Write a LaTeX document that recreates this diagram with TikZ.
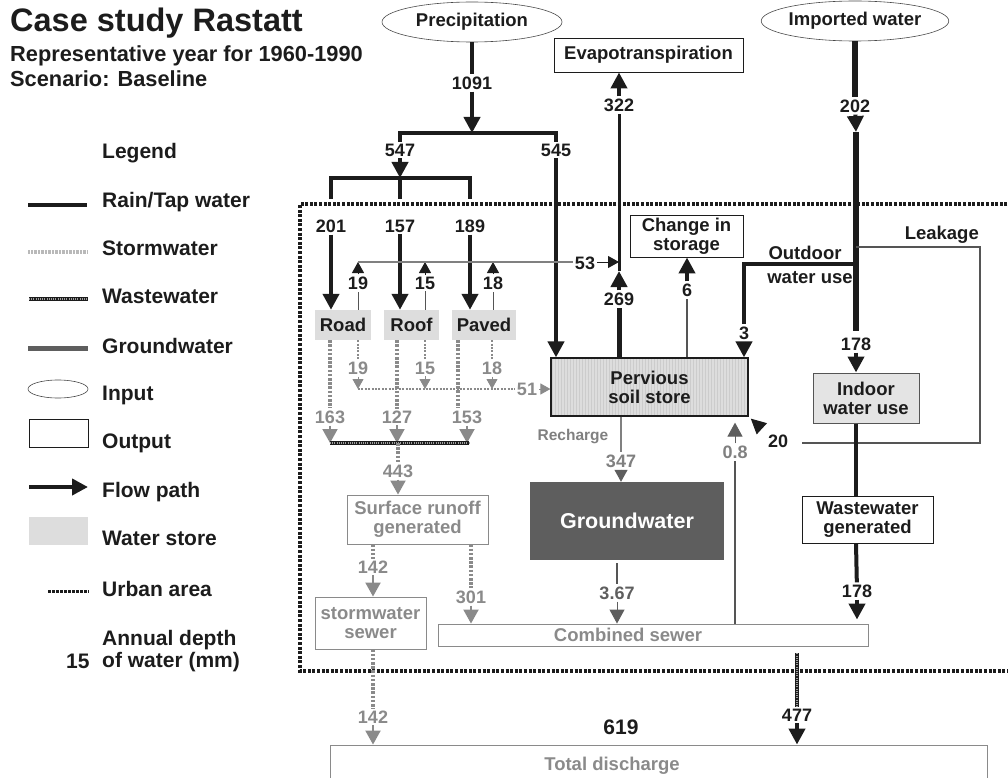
\documentclass[tikz,border=0pt]{standalone}
\usepackage{fontspec}
\setmainfont{Liberation Sans}
\usetikzlibrary{arrows.meta,shapes.geometric,patterns}
\definecolor{ink}{HTML}{1C1C1C}
\definecolor{storm}{HTML}{8A8A8A}
\definecolor{gwc}{HTML}{5E5E5E}
\definecolor{storefill}{HTML}{DDDDDD}
\definecolor{thinc}{HTML}{555555}
\newcommand{\fsz}[2]{\fontsize{#1}{#2}\selectfont\bfseries}
\tikzset{
  num/.style={font=\fsz{18}{19}, text=ink, inner sep=2pt},
  gnum/.style={num, text=storm},
  lbl/.style={font=\fsz{18.5}{19}, text=ink, align=center},
  legtxt/.style={font=\fsz{21}{22}, text=ink, anchor=base west, inner sep=0pt},
  rain/.style={draw=ink, line width=4pt},
  arr/.style={draw=ink, line width=4pt, -{Triangle[length=16pt,width=16pt]}},
  sarr/.style={draw=ink, line width=1pt, -{Triangle[length=11pt,width=12pt]}},
  garr/.style={draw=storm, line width=2pt, -{Triangle[length=14pt,width=15pt]}},
  gsarr/.style={draw=storm, line width=1pt, -{Triangle[length=10pt,width=11pt]}},
  stormln/.style={draw=storm, line width=3.5pt, dash pattern=on 2.6pt off 1.6pt},
  stormthin/.style={draw=storm, line width=2pt, dash pattern=on 2pt off 1.4pt},
  waste/.style={draw=ink, line width=4pt, postaction={draw=gray!75, line width=1.2pt, dash pattern=on 1pt off 1.2pt}},
  urban/.style={draw=ink, line width=3.5pt, dash pattern=on 3pt off 1.6pt},
  outbox/.style={draw=ink, line width=0.9pt, fill=white, lbl, inner sep=0pt},
  gbox/.style={draw=storm, line width=0.9pt, font=\fsz{18.5}{19}, text=storm, align=center, inner sep=0pt},
  storebox/.style={fill=storefill, lbl, inner sep=0pt},
  inbox/.style={ellipse, draw=ink!80, line width=0.6pt, lbl, inner sep=0pt},
}
\begin{document}
\begin{tikzpicture}[x=1pt,y=-1pt]
\useasboundingbox (0,0) rectangle (1008,778);
\clip (0,0) rectangle (1008,778);
% ---------- title ----------
\node[font=\fsz{32.5}{33}, text=ink, anchor=base west, inner sep=0pt] (title) at (10,32) {Case study Rastatt};
\node[legtxt, font=\fsz{21.8}{22}] (sub1) at (10,62) {Representative year for 1960-1990};
\node[legtxt, font=\fsz{21.8}{22}] (sub2) at (10,87) {Scenario: Baseline};
% ---------- legend ----------
\node[legtxt] (lg) at (102,159) {Legend};
\draw[rain] (28,205) -- (87,205);
\node[legtxt] at (102,207) {Rain/Tap water};
\draw[draw=gray!55, line width=4pt, dash pattern=on 0.7pt off 0.7pt] (28,252) -- (87,252);
\node[legtxt] at (102,255) {Stormwater};
\draw[waste] (29,299) -- (88,299);
\node[legtxt] at (102,303) {Wastewater};
\draw[draw=gwc, line width=5pt] (28,348) -- (88,348);
\node[legtxt] at (102,353) {Groundwater};
\draw[ink!80, line width=0.6pt] (58,389) ellipse [x radius=30, y radius=9];
\node[legtxt] at (102,400) {Input};
\draw[ink, line width=0.8pt] (29,419) rectangle (88,447);
\node[legtxt] at (102,448) {Output};
\draw[arr] (29,487) -- (88,487);
\node[legtxt] at (102,497) {Flow path};
\fill[storefill] (29,517) rectangle (88,545);
\node[legtxt] at (102,545) {Water store};
\draw[ink, line width=3pt, dash pattern=on 2.5pt off 1.5pt] (48,591) -- (89,591);
\node[legtxt] at (102,596) {Urban area};
\node[legtxt] at (102,645) {Annual depth};
\node[legtxt] at (102,667) {of water (mm)};
\node[legtxt] at (66,668) {15};
% ---------- urban area ----------
\draw[urban] (1012,204) -- (300,204) -- (300,671) -- (1012,671);
% ---------- boxes ----------
\node[inbox, minimum width=180pt, minimum height=40pt] (prec) at (472,22) {Precipitation};
\node[inbox, minimum width=182pt, minimum height=40pt] (imp) at (855,21) {Imported water};
\node[outbox, minimum width=189pt, minimum height=34pt] (et) at (648.5,55) {Evapotranspiration};
\node[outbox, minimum width=113pt, minimum height=42pt] (cis) at (686.5,236) {Change in\\storage};
\node[storebox, minimum width=56pt, minimum height=30pt] (road) at (343,325) {Road};
\node[storebox, minimum width=55pt, minimum height=30pt] (roof) at (411.5,325) {Roof};
\node[storebox, minimum width=64pt, minimum height=30pt] (paved) at (484,325) {Paved};
\node[draw=ink, line width=1.2pt, preaction={fill=storefill}, pattern=vertical lines, pattern color=gray!40, minimum width=197pt, minimum height=58pt, inner sep=0pt, lbl] (perv) at (649.5,387) {Pervious\\soil store};
\node[draw=thinc, line width=1pt, fill=storefill!80!white, minimum width=106pt, minimum height=50pt, inner sep=0pt, lbl] (indoor) at (866,398) {Indoor\\water use};
\node[fill=gwc, minimum width=194pt, minimum height=78pt, text=white, font=\fsz{21.5}{22}] (gwb) at (627,521) {Groundwater};
\node[gbox, minimum width=141pt, minimum height=49pt] (sr) at (417.5,519.5) {Surface runoff\\generated};
\node[outbox, minimum width=131pt, minimum height=47pt] (wg) at (867.5,519.5) {Wastewater\\generated};
\node[gbox, minimum width=111pt, minimum height=52pt] (ss) at (370.5,623) {stormwater\\sewer};
\node[gbox, minimum width=430pt, minimum height=22pt] (cs) at (653,635) {};
\node[font=\fsz{18.5}{19}, text=storm] (csl) at (628,635) {Combined sewer};
\node[gbox, minimum width=657pt, minimum height=56pt] (td) at (658.5,773) {};
\node[font=\fsz{18.5}{19}, text=storm] (tdl) at (612,766) {Total discharge};
\node[font=\fsz{21}{22}, text=ink] (n619) at (621,727) {619};
% ---------- precipitation split ----------
\node[num] (n1091) at (472,83) {1091};
\coordinate (s1) at (472,133);
\draw[rain] (prec) -- (n1091);
\draw[arr] (n1091) -- (s1);
\node[num] (n547) at (400,150) {547};
\node[num] (n545) at (556,150) {545};
\draw[rain] (n547.north) |- (s1) -| (n545.north);
\draw[arr] (n545) -- (n545 |- perv.north);
\coordinate (s2) at (400,178);
\draw[arr] (n547) -- (s2);
\coordinate (t201) at (331,199);
\coordinate (t157) at (400,199);
\coordinate (t189) at (470,199);
\draw[rain] (t201) |- (s2) -| (t189);
\draw[rain] (s2) -- (t157);
\node[num] (n201) at (331,226) {201};
\node[num] (n157) at (400,226) {157};
\node[num] (n189) at (470,226) {189};
\draw[arr] (n201) -- (road.north -| n201);
\draw[arr] (n157) -- (roof.north -| n157);
\draw[arr] (n189) -- (paved.north -| n189);
% ---------- evaporation from impervious ----------
\node[num] (n19) at (358,283) {19};
\node[num] (n15) at (425,283) {15};
\node[num] (n18) at (493,283) {18};
\coordinate (e19) at (358,262);
\coordinate (e15) at (425,262);
\coordinate (e18) at (493,262);
\draw[thinc, line width=1pt] (road.north -| n19) -- (n19);
\draw[thinc, line width=1pt] (roof.north -| n15) -- (n15);
\draw[thinc, line width=1pt] (paved.north -| n18) -- (n18);
\draw[sarr] (n19) -- (e19);
\draw[sarr] (n15) -- (e15);
\draw[sarr] (n18) -- (e18);
\node[num] (n53) at (585,263) {53};
\draw[gray, line width=1.2pt] (e19) -- (n53.west |- e19);
\coordinate (c53) at (619,262);
\draw[sarr] (n53.east |- c53) -- (c53);
% ---------- evapotranspiration ----------
\node[num] (n269) at (619,299) {269};
\node[num] (n322) at (619,105) {322};
\coordinate (et1) at (619,271);
\draw[draw=ink, line width=5pt] (perv.north -| n269) -- (n269);
\draw[arr] (n269) -- (et1);
\draw[draw=ink, line width=3pt] (et1) -- (n322);
\draw[arr] (n322) -- (et.south -| n322);
% change in storage
\node[num] (n6) at (687,290) {6};
\draw[draw=thinc, line width=2pt] (perv.north -| n6) -- (n6);
\draw[arr] (n6) -- (cis.south -| n6);
% ---------- imported water ----------
\node[num] (n202) at (855,106) {202};
\coordinate (iw1) at (856,132);
\draw[draw=ink, line width=6pt] (imp) -- (n202);
\draw[arr] (n202) -- (iw1);
\coordinate (iw2) at (856,331);
\draw[draw=ink, line width=6pt] (iw1) -- (iw2);
\node[num] (n178a) at (856,344) {178};
\draw[arr] (n178a) -- (indoor.north -| n178a);
% outdoor
\coordinate (od1) at (856,264);
\node[num] (n3) at (744,333) {3};
\draw[rain] (od1) -| (n3.north);
\draw[arr] (n3) -- (perv.north -| n3);
\node[lbl, inner sep=0pt] (odl) at (805,253) {Outdoor};
\node[lbl, inner sep=0pt] (wul) at (810,278) {water use};
% leakage
\coordinate (lk1) at (856,247);
\coordinate (lk2) at (980,247);
\coordinate (lk3) at (980,443);
\coordinate (lk4) at (802,443);
\draw[thinc, line width=1.2pt] (lk1) -- (lk2) -- (lk3) -- (lk4);
\node[lbl, anchor=south east, inner sep=0pt] (lkl) at (979,244) {Leakage};
\node[num] (n20) at (778,441) {20};
\draw[draw=ink, line width=1pt, -{Triangle[length=15pt,width=15pt]}, shorten >=3pt, shorten <=6pt] (n20.north west) -- (perv.south east);
% ---------- stormwater ----------
\coordinate (pv) at (458,340);
\node[gnum] (n163) at (330,417) {163};
\node[gnum] (n127) at (397,417) {127};
\node[gnum] (n153) at (467,417) {153};
\draw[stormln] (road.south -| n163) -- (n163);
\draw[stormln] (roof.south -| n127) -- (n127);
\draw[stormln] (pv) -- (pv |- n153.north);
\coordinate (wb1) at (330,443);
\coordinate (wbm) at (398,443);
\coordinate (wb2) at (469,443);
\draw[garr] (n163) -- (n163 |- wb1);
\draw[garr] (n127) -- (n127 |- wb1);
\draw[garr] (n153) -- (n153 |- wb1);
\draw[waste] (wb1) -- (wb2);
% to pervious
\node[gnum] (g19) at (358,368) {19};
\node[gnum] (g15) at (425,368) {15};
\node[gnum] (g18) at (492,368) {18};
\draw[stormthin] (road.south -| g19) -- (g19);
\draw[stormthin] (roof.south -| g15) -- (g15);
\draw[stormthin] (paved.south -| g18) -- (g18);
\coordinate (h19) at (358,389);
\draw[gsarr] (g19) -- (h19);
\draw[gsarr] (g15) -- (g15 |- h19);
\draw[gsarr] (g18) -- (g18 |- h19);
\node[gnum] (n51) at (527,389) {51};
\draw[stormthin] (h19) -- (n51);
\draw[gsarr] (n51) -- (perv.west |- n51);
% surface runoff
\node[gnum] (n443) at (398,471) {443};
\draw[stormln] (wbm) -- (n443);
\draw[garr] (n443) -- (sr.north -| n443);
\node[gnum] (n142a) at (373,567) {142};
\draw[stormln] (sr.south -| n142a) -- (n142a);
\draw[garr] (n142a) -- (ss.north -| n142a);
\node[gnum] (n301) at (471,597) {301};
\draw[stormln] (sr.south -| n301) -- (n301);
\draw[garr] (n301) -- (cs.north -| n301);
\node[gnum] (n142b) at (373,717) {142};
\draw[stormln] (ss.south -| n142b) -- (n142b);
\draw[garr] (n142b) -- (td.north -| n142b);
% ---------- groundwater ----------
\node[font=\fsz{15.5}{16}, text=gray] (rcl) at (573,437) {Recharge};
\node[num, text=gray] (n347) at (621,461) {347};
\draw[gray, line width=1.5pt] (perv.south -| n347) -- (n347);
\draw[draw=gwc, line width=1pt, -{Triangle[length=12pt,width=13pt]}] (n347) -- (gwb.north -| n347);
\node[num, text=gwc] (n367) at (617,593) {3.67};
\draw[draw=thinc, line width=2pt, shorten <=3pt] (gwb.south -| n367) -- (n367);
\draw[draw=gwc, line width=1pt, -{Triangle[length=14pt,width=15pt]}] (n367) -- (cs.north -| n367);
\node[num, text=gray] (n08) at (735,452) {0.8};
\draw[draw=thinc, line width=2pt] (cs.north -| n08) -- (n08);
\draw[draw=gwc, line width=1pt, -{Triangle[length=14pt,width=15pt]}, shorten >=6pt] (n08) -- (perv.south -| n08);
% ---------- wastewater ----------
\coordinate (xv) at (856,0);
\draw[rain] (indoor.south -| xv) -- (wg.north -| xv);
\node[num] (n178b) at (857,591) {178};
\draw[rain] (wg.south -| xv) -- (n178b);
\draw[arr, shorten >=4pt] (n178b) -- (cs.north -| n178b);
\node[num] (n477) at (797,715) {477};
\draw[waste, shorten <=7pt] (cs.south -| n477) -- (n477);
\draw[arr] (n477) -- (td.north -| n477);
\end{tikzpicture}
\end{document}
